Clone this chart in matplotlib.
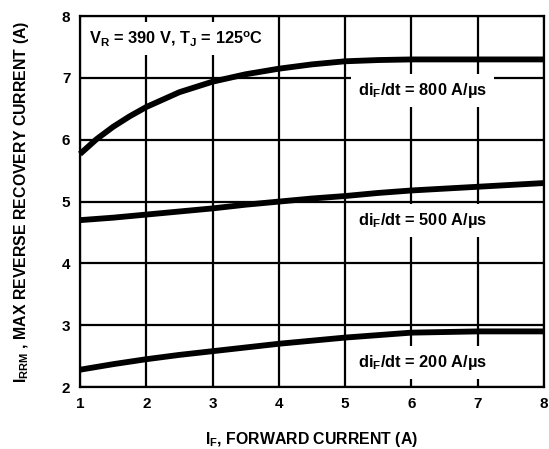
import matplotlib
matplotlib.use("Agg")
import matplotlib.pyplot as plt

plt.rcParams['font.family'] = 'Liberation Sans'
plt.rcParams['font.weight'] = 'bold'
plt.rcParams['mathtext.fontset'] = 'custom'
plt.rcParams['mathtext.rm'] = 'Liberation Sans:bold'
plt.rcParams['mathtext.it'] = 'Liberation Sans:bold'
plt.rcParams['mathtext.bf'] = 'Liberation Sans:bold'

x_if = [1, 1.25, 1.5, 1.75, 2, 2.5, 3, 3.5, 4, 4.5, 5, 5.5, 6, 6.5, 7, 7.5, 8]
i800 = [5.77, 6.01, 6.21, 6.38, 6.53, 6.77, 6.94, 7.06, 7.15, 7.22, 7.27, 7.29, 7.3, 7.3, 7.3, 7.3, 7.3]
x_lin = [1, 1.5, 2, 2.5, 3, 3.5, 4, 4.5, 5, 5.5, 6, 6.5, 7, 7.5, 8]
i500 = [4.7, 4.74, 4.79, 4.84, 4.89, 4.95, 5.0, 5.05, 5.09, 5.14, 5.18, 5.21, 5.24, 5.27, 5.3]
i200 = [2.28, 2.37, 2.45, 2.52, 2.58, 2.64, 2.70, 2.75, 2.80, 2.84, 2.88, 2.89, 2.9, 2.9, 2.9]
labels = ["di$_\\mathregular{F}$/dt = 800 A/µs", "di$_\\mathregular{F}$/dt = 500 A/µs", "di$_\\mathregular{F}$/dt = 200 A/µs"]
label_pos = [(6.17, 6.8), (6.17, 4.7), (6.17, 2.4)]

fig = plt.figure(figsize=(5.49, 4.49), dpi=100)
ax = fig.add_axes([0.1457, 0.138, 0.845, 0.826])
ax.set_xlim(1, 8)
ax.set_ylim(2, 8)
ax.set_xticks(range(1, 9))
ax.set_yticks(range(2, 9))
ax.set_xticklabels([str(v) for v in range(1, 9)], fontsize=11, fontweight='bold')
ax.set_yticklabels([str(v) for v in range(2, 9)], fontsize=11, fontweight='bold')
ax.grid(True, color='black', linewidth=1.6)
ax.set_axisbelow(True)
for s in ax.spines.values():
    s.set_linewidth(1.6)
ax.tick_params(length=0, pad=7)

for xs, ys in ((x_if, i800), (x_lin, i500), (x_lin, i200)):
    ax.plot(xs, ys, color='black', linewidth=4.2, solid_capstyle='butt', solid_joinstyle='round', zorder=3, clip_on=False)

for lab, (px, py) in zip(labels, label_pos):
    ax.text(px, py, lab, ha='center', va='center', fontsize=11.8, fontweight='bold', zorder=4,
            bbox=dict(facecolor='white', edgecolor='none', pad=5))

ax.text(1.14, 7.64, "V$_\\mathregular{R}$ = 390 V, T$_\\mathregular{J}$ = 125$^\\mathregular{o}$C", ha='left', va='center',
        fontsize=11.8, fontweight='bold', zorder=4,
        bbox=dict(facecolor='white', edgecolor='none', pad=5))

ax.set_xlabel("I$_\\mathregular{F}$, FORWARD CURRENT (A)", fontsize=11.4, fontweight='bold', labelpad=14)
ax.set_ylabel("I$_\\mathregular{RRM}$ , MAX REVERSE RECOVERY CURRENT (A)", fontsize=11.4, fontweight='bold', labelpad=22)

fig.savefig("out.png", dpi=100)
